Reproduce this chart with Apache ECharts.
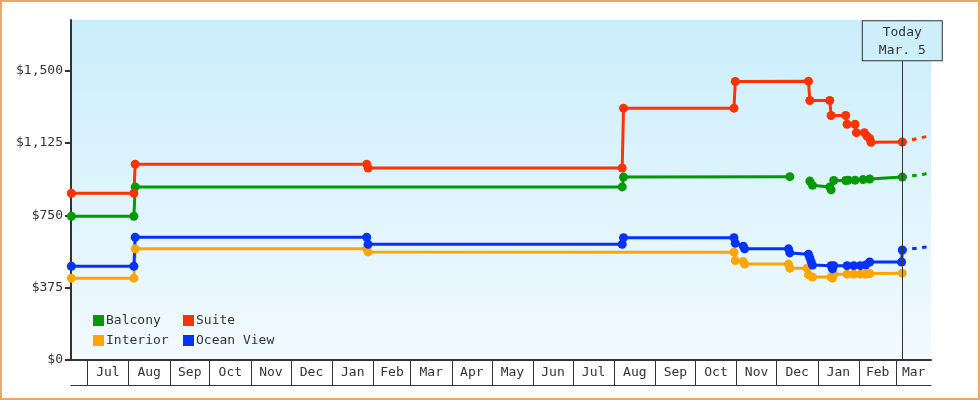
<!DOCTYPE html>
<html>
<head>
<meta charset="utf-8">
<script src="https://cdn.jsdelivr.net/npm/echarts@6/dist/echarts.min.js"></script>
<style>
  html, body { margin: 0; padding: 0; background: #fff; }
  #wrap { position: relative; width: 980px; height: 400px; }
  #chart { position: absolute; left: 0; top: 0; width: 980px; height: 400px; }
  #frame { position: absolute; left: 0; top: 0; width: 980px; height: 400px; box-sizing: border-box;
           border: 2px solid #e8aa66; pointer-events: none; }
</style>
</head>
<body>
<div id="wrap"><div id="chart"></div><div id="frame"></div></div>
<script>
// ---------- data ----------
const xMin = '2012-06-18T18:00';
const xMax = '2014-03-27T02:00';
const today = '2014-03-05T12:00';
const todayLabel = ['Today', 'Mar. 5'];

const yTicks = [0, 375, 750, 1125, 1500];
const yMax = 1762;

const monthStarts = ['2012-07-01','2012-08-01','2012-09-01','2012-10-01','2012-11-01','2012-12-01',
  '2013-01-01','2013-02-01','2013-03-01','2013-04-01','2013-05-01','2013-06-01','2013-07-01',
  '2013-08-01','2013-09-01','2013-10-01','2013-11-01','2013-12-01','2014-01-01','2014-02-01','2014-03-01'];
const monthLabels = ['Jul','Aug','Sep','Oct','Nov','Dec','Jan','Feb','Mar','Apr','May','Jun','Jul',
  'Aug','Sep','Oct','Nov','Dec','Jan','Feb','Mar'];

const balcony = [
  ['2012-06-19',745],['2012-08-05',745],['2012-08-06',897],['2013-08-07',897],['2013-08-08',948],
  ['2013-12-11',950],['2013-12-18',null],['2013-12-26',927],['2013-12-28',905],['2014-01-10',897],
  ['2014-01-11',882],['2014-01-13',930],['2014-01-22',930],['2014-01-24',932],['2014-01-29',932],
  ['2014-02-04',935],['2014-02-09',938],['2014-03-05T12:00',948]
];
const balconyForecast = [['2014-03-05T12:00',948],['2014-03-27T02:00',968]];

const suite = [
  ['2012-06-19',864],['2012-08-05',864],['2012-08-06',1015],['2013-01-27',1015],['2013-01-28',995],
  ['2013-08-07',995],['2013-08-08',1305],['2013-10-30',1305],['2013-10-31',1443],['2013-12-25',1445],
  ['2013-12-26',1345],['2014-01-10',1345],['2014-01-11',1267],['2014-01-22',1267],['2014-01-23',1222],
  ['2014-01-29',1222],['2014-01-30',1178],['2014-02-05',1178],['2014-02-07',1160],['2014-02-09',1148],
  ['2014-02-10',1128],['2014-03-05T12:00',1130]
];
const suiteForecast = [['2014-03-05T12:00',1130],['2014-03-27T02:00',1163]];

const interior = [
  ['2012-06-19',424],['2012-08-05',424],['2012-08-06',576],['2013-01-27',576],['2013-01-28',560],
  ['2013-10-30',559],['2013-10-31',515],['2013-11-06',510],['2013-11-07',497],['2013-12-10',497],
  ['2013-12-11',476],['2013-12-24',476],['2013-12-25',441],['2013-12-28',430],['2014-01-11',430],
  ['2014-01-12',425],['2014-01-13',445],['2014-01-23',445],['2014-01-28',445],['2014-02-02',445],
  ['2014-02-06',445],['2014-02-09',448],['2014-03-05T12:00',450]
];

const oceanView = [
  ['2012-06-19',486],['2012-08-05',486],['2012-08-06',636],['2013-01-27',636],['2013-01-28',600],
  ['2013-08-07',600],['2013-08-08',634],['2013-10-30',634],['2013-10-31',605],['2013-11-06',590],
  ['2013-11-07',576],['2013-12-10',576],['2013-12-11',555],['2013-12-25',548],['2013-12-26',530],
  ['2013-12-27',510],['2013-12-28',492],['2014-01-11',489],['2014-01-12',472],['2014-01-13',489],
  ['2014-01-23',489],['2014-01-28',489],['2014-02-02',489],['2014-02-06',492],['2014-02-09',508],
  ['2014-03-05',508],['2014-03-05T12:00',570]
];
const oceanViewForecast = [['2014-03-05T12:00',570],['2014-03-27T02:00',589]];

// ---------- helpers ----------
const t = s => Date.parse(s.length === 10 ? s + 'T00:00:00Z' : s + ':00Z');
const conv = arr => arr.map(d => [t(d[0]), d[1]]);

const tickVals = monthStarts.map(t);
const labelVals = [];
const labelMap = {};
tickVals.forEach((v, i) => {
  const end = i + 1 < tickVals.length ? tickVals[i + 1] : t(xMax);
  const mid = Math.round((v + end) / 2);
  labelVals.push(mid);
  labelMap[mid] = monthLabels[i];
});

const FONT = 'DejaVu Sans Mono';
const TXT = '#333';
const C = { Balcony: '#009900', Suite: '#ff3300', Interior: '#ffa500', 'Ocean View': '#0033ff' };

function dataSeries(name, arr) {
  return {
    name, type: 'line', data: conv(arr), color: C[name],
    symbol: 'circle', symbolSize: 9, showSymbol: true, connectNulls: false,
    lineStyle: { width: 3, color: C[name] }, itemStyle: { color: C[name] },
    emphasis: { disabled: true }
  };
}
function forecastSeries(name, arr) {
  return {
    name, type: 'line', data: conv(arr), color: C[name], showSymbol: false, symbol: 'none',
    lineStyle: { width: 3, color: C[name], type: [4.5, 5.5] }, emphasis: { disabled: true }
  };
}

const chart = echarts.init(document.getElementById('chart'), null, { renderer: 'canvas' });
const legendCommon = {
  orient: 'vertical', itemWidth: 11, itemHeight: 11, itemGap: 7, icon: 'rect', top: 314, padding: 0,
  selectedMode: false,
  textStyle: { fontFamily: FONT, fontSize: 13, color: TXT, lineHeight: 13, padding: [0, 0, 0, -3] }
};
chart.setOption({
  animation: false,
  textStyle: { fontFamily: FONT },
  grid: {
    left: 71, right: 49, top: 20, bottom: 40, show: true, borderWidth: 0,
    backgroundColor: { type: 'linear', x: 0, y: 0, x2: 0, y2: 1,
      colorStops: [{ offset: 0, color: '#cbeefc' }, { offset: 1, color: '#f2faff' }] }
  },
  legend: [
    Object.assign({}, legendCommon, { left: 93, data: ['Balcony', 'Interior'] }),
    Object.assign({}, legendCommon, { left: 183, data: ['Suite', 'Ocean View'] })
  ],
  xAxis: [{
    type: 'value', min: t(xMin), max: t(xMax), position: 'bottom', scale: true,
    axisLine: { show: true, onZero: false, lineStyle: { color: TXT, width: 2 } },
    axisTick: { show: true, customValues: tickVals, length: 25, lineStyle: { color: TXT, width: 1 } },
    axisLabel: { show: true, customValues: labelVals, margin: 6, color: TXT, fontFamily: FONT, fontSize: 13,
      formatter: v => labelMap[v] || '' },
    splitLine: { show: false }
  }, {
    type: 'value', min: t(xMin), max: t(xMax), position: 'bottom', offset: 25, scale: true,
    axisLine: { show: true, onZero: false, lineStyle: { color: TXT, width: 1 } },
    axisTick: { show: false }, axisLabel: { show: false }, splitLine: { show: false }
  }],
  yAxis: {
    type: 'value', min: 0, max: yMax,
    axisLine: { show: true, onZero: false, lineStyle: { color: TXT, width: 2 } },
    axisTick: { show: true, customValues: yTicks, length: 6, lineStyle: { color: TXT, width: 2 } },
    axisLabel: { customValues: yTicks, margin: 8, color: TXT, fontFamily: FONT, fontSize: 13,
      formatter: v => '$' + v.toLocaleString('en-US') },
    splitLine: { show: false }
  },
  series: [
    dataSeries('Interior', interior),
    dataSeries('Balcony', balcony), forecastSeries('Balcony', balconyForecast),
    dataSeries('Ocean View', oceanView), forecastSeries('Ocean View', oceanViewForecast),
    dataSeries('Suite', suite), forecastSeries('Suite', suiteForecast),
    {
      name: 'today', type: 'line', data: [], clip: false, silent: true,
      markLine: {
        silent: true, symbol: ['none', 'none'], animation: false,
        lineStyle: { color: TXT, width: 1, type: 'solid' },
        label: {
          show: true, position: 'end', distance: 0, formatter: todayLabel.join('\n'),
          fontFamily: FONT, fontSize: 13, color: TXT, lineHeight: 18, align: 'center',
          backgroundColor: '#cdeffc', borderColor: TXT, borderWidth: 1, padding: [2, 16, 1, 16]
        },
        emphasis: { disabled: true },
        data: [[{ coord: [t(today), 0] }, { coord: [t(today), 1553] }]]
      }
    }
  ]
});
</script>
</body>
</html>
